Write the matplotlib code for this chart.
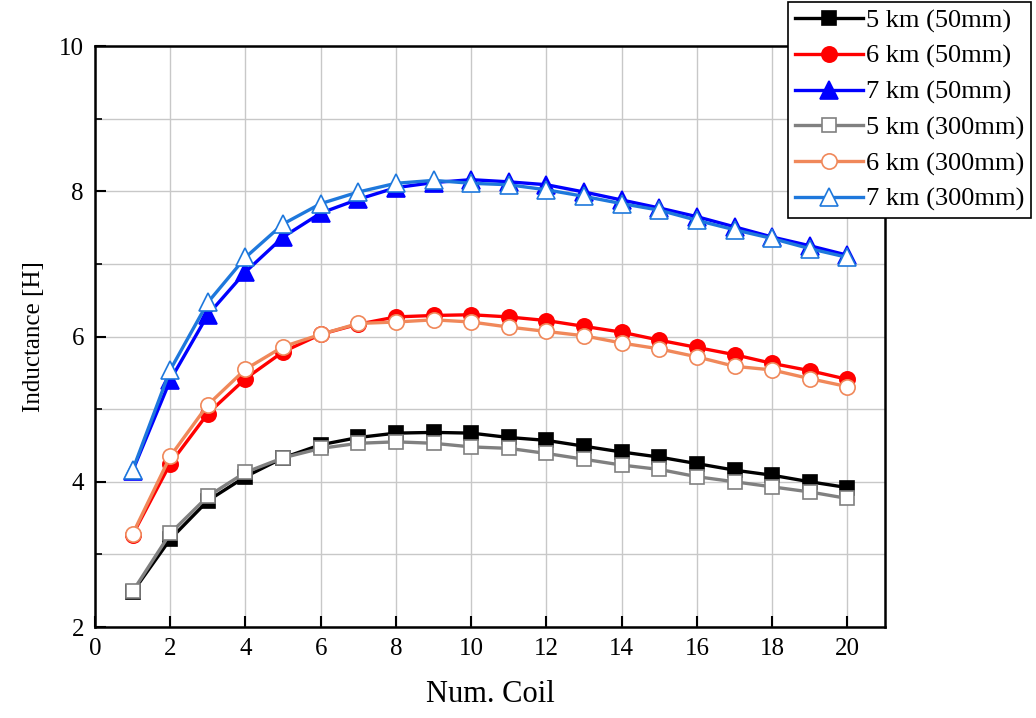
import matplotlib
matplotlib.use("Agg")
import matplotlib.pyplot as plt
import numpy as np

coils = list(range(1, 21))

km5_50 = [2.48, 3.21, 3.74, 4.07, 4.33, 4.51, 4.61, 4.67, 4.68, 4.67, 4.61, 4.57, 4.49, 4.41, 4.34, 4.25, 4.16, 4.09, 4.00, 3.92]
km6_50 = [3.27, 4.25, 4.94, 5.42, 5.79, 6.03, 6.17, 6.27, 6.29, 6.30, 6.27, 6.22, 6.14, 6.06, 5.95, 5.85, 5.75, 5.63, 5.53, 5.41]
km7_50 = [4.15, 5.40, 6.30, 6.89, 7.37, 7.70, 7.89, 8.05, 8.12, 8.16, 8.13, 8.09, 7.99, 7.88, 7.77, 7.65, 7.51, 7.37, 7.25, 7.12]
km5_300 = [2.49, 3.29, 3.80, 4.13, 4.33, 4.46, 4.53, 4.55, 4.53, 4.48, 4.46, 4.39, 4.31, 4.23, 4.17, 4.07, 4.00, 3.93, 3.86, 3.77]
km6_300 = [3.28, 4.35, 5.06, 5.55, 5.86, 6.03, 6.18, 6.20, 6.23, 6.20, 6.13, 6.07, 6.01, 5.91, 5.83, 5.72, 5.59, 5.54, 5.42, 5.31]
km7_300 = [4.16, 5.54, 6.47, 7.09, 7.55, 7.83, 7.99, 8.11, 8.15, 8.11, 8.09, 8.02, 7.93, 7.83, 7.74, 7.60, 7.47, 7.35, 7.21, 7.09]

labels = ["5 km (50mm)", "6 km (50mm)", "7 km (50mm)",
          "5 km (300mm)", "6 km (300mm)", "7 km (300mm)"]
series = [km5_50, km6_50, km7_50, km5_300, km6_300, km7_300]
colors = ["#000000", "#FF0000", "#0000FF", "#808080", "#F0885A", "#1E78DC"]
markers = ["s", "o", "^", "s", "o", "^"]
msizes = [10, 11, 13, 10, 11, 13]
filled = [True, True, True, False, False, False]

plt.rcParams['font.family'] = ['Liberation Serif', 'DejaVu Serif']

fig = plt.figure(figsize=(10.36, 7.18), dpi=100)
ax = fig.add_axes([0.0917, 0.1267, 0.7626, 0.8092])

handles = []
for y, lab, c, m, ms, f in zip(series, labels, colors, markers, msizes, filled):
    h, = ax.plot(coils, y, color=c, marker=m, markersize=ms, linewidth=2.4,
                 markerfacecolor=c if f else "white", markeredgecolor=c,
                 markeredgewidth=1.2, label=lab, zorder=3)
    handles.append(h)

ax.set_xlim(0, 21)
ax.set_ylim(2, 10)
ax.set_xticks(np.arange(0, 21, 2))
ax.set_yticks(np.arange(2, 11, 2))
ax.set_yticks(np.arange(3, 10, 2), minor=True)
ax.grid(True, which="major", axis="both", color="#C8C8C8", linewidth=1.0, zorder=0)
ax.grid(True, which="minor", axis="y", color="#C8C8C8", linewidth=1.0, zorder=0)
ax.tick_params(which="major", direction="in", length=8, width=1.5, labelsize=18, pad=8)
ax.tick_params(which="minor", direction="in", length=5, width=1.2)
for s in ax.spines.values():
    s.set_linewidth(1.8)

ax.set_xlabel("Num. Coil", fontsize=22, labelpad=14)
ax.set_ylabel("Inductance [H]", fontsize=18, labelpad=10)

leg = fig.legend(handles=handles, loc="upper right", bbox_to_anchor=(0.995, 0.997),
                 fontsize=19, frameon=True, fancybox=False, edgecolor="black",
                 framealpha=1, handlelength=2.6, handletextpad=0.1,
                 labelspacing=0.45, borderpad=0.25, borderaxespad=0)
leg.get_frame().set_linewidth(1.2)
leg.set_zorder(10)

fig.savefig("out.png", dpi=100)
